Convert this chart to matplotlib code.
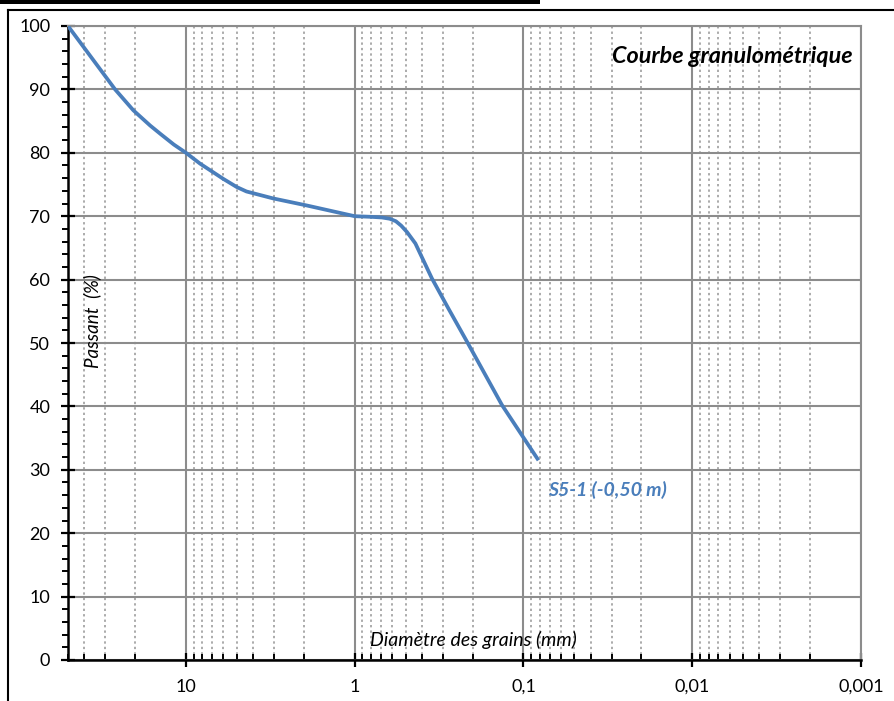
import matplotlib.pyplot as plt
import matplotlib.ticker as mticker
from matplotlib.lines import Line2D
from matplotlib.patches import Rectangle

plt.rcParams['font.family'] = ['Lato', 'DejaVu Sans']

# grain diameter (mm) and passing (%)
diametre = [50, 26.3, 20.5, 16.3, 14.2, 11.8, 10, 8.26, 6.02, 5.0, 4.38, 3.04, 1.93,
            1.0, 0.8, 0.69, 0.62, 0.57, 0.53, 0.49, 0.437, 0.349, 0.278, 0.216, 0.134, 0.0815]
passant = [100, 90.0, 86.7, 84.3, 83.0, 81.3, 80.0, 78.3, 75.9, 74.6, 73.9, 72.8, 71.7,
           70.0, 69.9, 69.8, 69.6, 69.2, 68.5, 67.5, 65.7, 60.2, 55.4, 50.2, 40.2, 31.5]

x_ticks = [10, 1, 0.1, 0.01, 0.001]
x_labels = ['10', '1', '0,1', '0,01', '0,001']
y_ticks = list(range(0, 101, 10))

serie = 'S5-1 (-0,50 m)'
titre = 'Courbe granulométrique'

bleu = '#4a7ebb'
gris = '#8c8c8c'

fig = plt.figure(figsize=(8.95, 7.01), dpi=100)
ax = fig.add_axes([68 / 895, 41 / 701, 793 / 895, 634 / 701])

ax.set_xscale('log')
ax.set_xlim(50, 0.001)
ax.set_ylim(0, 100)

ax.plot(diametre, passant, color=bleu, lw=2.7, solid_joinstyle='round',
        solid_capstyle='butt', zorder=3)

# grid
ax.xaxis.set_major_locator(mticker.FixedLocator(x_ticks))
ax.xaxis.set_major_formatter(mticker.FixedFormatter(x_labels))
ax.xaxis.set_minor_locator(mticker.LogLocator(base=10, subs=range(2, 10), numticks=20))
ax.xaxis.set_minor_formatter(mticker.NullFormatter())
ax.set_yticks(y_ticks)
ax.yaxis.set_minor_locator(mticker.MultipleLocator(2))

ax.grid(which='major', axis='both', color=gris, lw=1.5, zorder=1)
ax.grid(which='minor', axis='x', color='#ababab', lw=1.4, ls=(0, (1.2, 1.6)), zorder=1)

for s in ['top', 'right']:
    ax.spines[s].set_color(gris)
    ax.spines[s].set_linewidth(1.5)
for s in ['left', 'bottom']:
    ax.spines[s].set_color('black')
    ax.spines[s].set_linewidth(1.8)

ax.tick_params(axis='both', which='major', direction='inout', length=9.5, width=1.6,
               labelsize=13, color='black')
ax.tick_params(axis='y', which='major', pad=8)
ax.tick_params(axis='x', which='major', pad=9)
ax.tick_params(axis='y', which='minor', direction='out', length=4.5, width=1.4)
ax.tick_params(axis='x', which='minor', direction='in', length=4.5, width=1.4)

ax.text(0.989, 0.952, titre, transform=ax.transAxes, ha='right', va='center',
        fontsize=16.8, fontweight='bold', fontstyle='italic')
ax.text(0.072, 26.8, serie, ha='left', va='center', color=bleu,
        fontsize=14, fontweight='bold', fontstyle='italic')
ax.text(0.030, 0.534, 'Passant  (%)', transform=ax.transAxes, rotation=90,
        ha='center', va='center', fontsize=13.5, fontstyle='italic')
ax.text(0.511, 0.031, 'Diamètre des grains (mm)', transform=ax.transAxes,
        ha='center', va='center', fontsize=14, fontstyle='italic')

# frame around the sheet
fig.add_artist(Line2D([8 / 895, 1], [1 - 10 / 701, 1 - 10 / 701], color='black', lw=1.5))
fig.add_artist(Line2D([8 / 895, 8 / 895], [0, 1 - 10 / 701], color='black', lw=1.5))
fig.add_artist(Rectangle((0, 1 - 3.5 / 701), 540 / 895, 3.5 / 701, color='black', lw=0))

fig.savefig('out.png', dpi=100)
